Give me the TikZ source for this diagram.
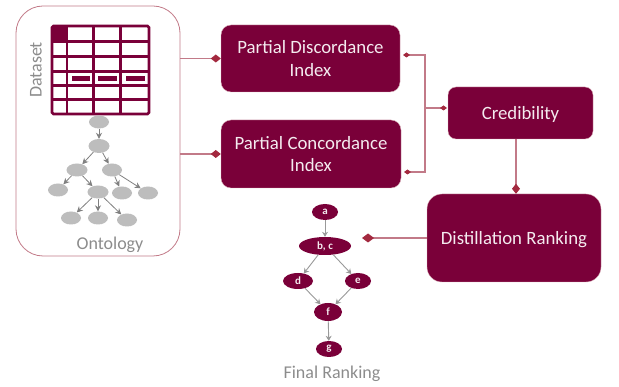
\documentclass[tikz,border=0pt]{standalone}
\usepackage{fontspec}
\setmainfont{Carlito}
\usetikzlibrary{arrows.meta,shapes.geometric}
\definecolor{wine}{HTML}{7A0039}
\definecolor{rose}{HTML}{C27A88}
\definecolor{tipred}{HTML}{A3293F}
\definecolor{onto}{HTML}{BDBDBD}
\definecolor{caption}{HTML}{8C8C8C}
\tikzset{
  box/.style={draw=rose!60,fill=wine,text=white!92!wine,rounded corners=10pt,inner sep=0pt,align=center,font=\fontsize{18.8}{22.5}\selectfont},
  link/.style={draw=rose,line width=1.1pt,-{Diamond[fill=tipred,color=tipred,length=10pt,width=8pt]}},
  smalllink/.style={draw=rose,line width=1.1pt,-{Diamond[fill=tipred,color=tipred,length=7pt,width=5pt]}},
  gridline/.style={draw=wine,line width=2.6pt},
  ontonode/.style={ellipse,fill=onto,minimum width=20pt,minimum height=13pt,inner sep=0pt},
  ontoarrow/.style={draw=gray,line width=.8pt,-{Stealth[length=6pt,width=6pt]}},
  rank/.style={ellipse,fill=wine,text=white!92!wine,minimum height=16pt,inner sep=0pt,font=\fontsize{11}{11}\selectfont\bfseries},
  rankarrow/.style={draw=gray!80,line width=.9pt,-{Stealth[length=5pt,width=6pt]}},
  caption/.style={text=caption,font=\fontsize{18}{18}\selectfont}
}
\begin{document}
\begin{tikzpicture}[x=1pt,y=-1pt]
  \useasboundingbox (0,0) rectangle (619,387);

  % dataset and ontology panel
  \node [draw=rose,fill=white,line width=.8pt,rounded corners=27pt,minimum width=164pt,minimum height=250pt,inner sep=0pt] (panel) at (98,131) {};
  \node [caption,rotate=90] (datasetlabel) at (36,70) {Dataset};
  \node [caption] (ontologylabel) at (110,245) {Ontology};

  % table
  \draw [gridline,fill=white,rounded corners=1.5pt] (52,26) rectangle (149,114);
  \fill [wine] (52,26) rectangle (67,41.5);
  \draw [gridline] (67,26) -- (67,114);
  \draw [gridline] (93.5,26) -- (93.5,114);
  \draw [gridline] (120.5,26) -- (120.5,114);
  \draw [gridline] (52,41.5) -- (149,41.5);
  \draw [gridline] (52,56.5) -- (149,56.5);
  \draw [gridline] (52,71.5) -- (149,71.5);
  \draw [gridline] (52,85.5) -- (149,85.5);
  \draw [gridline] (52,99.5) -- (149,99.5);
  \fill [wine] (71.5,76) rectangle (89.5,81);
  \fill [wine] (98,76) rectangle (116.5,81);
  \fill [wine] (125.5,76) rectangle (145,81);

  % ontology tree
  \node [ontonode] (o1) at (99,122) {};
  \node [ontonode,minimum width=21pt,minimum height=14pt] (o2) at (99,146) {};
  \node [ontonode,minimum width=21pt] (o3) at (77,170) {};
  \node [ontonode] (o4) at (112,170) {};
  \node [ontonode] (o5) at (58,190) {};
  \node [ontonode,minimum width=21pt] (o6) at (98,192) {};
  \node [ontonode] (o7) at (122,193) {};
  \node [ontonode] (o8) at (148,193) {};
  \node [ontonode] (o9) at (71,218) {};
  \node [ontonode] (o10) at (98,218) {};
  \node [ontonode] (o11) at (127,220) {};
  \draw [ontoarrow] (o1) -- (o2);
  \draw [ontoarrow] (o2) -- (o3);
  \draw [ontoarrow] (o2) -- (o4);
  \draw [ontoarrow] (o3) -- (o5);
  \draw [ontoarrow] (o3) -- (o6);
  \draw [ontoarrow] (o4) -- (o7);
  \draw [ontoarrow] (o4) -- (o8);
  \draw [ontoarrow] (o6) -- (o9);
  \draw [ontoarrow] (o6) -- (o10);
  \draw [ontoarrow] (o6) -- (o11);

  % main boxes
  \node [box,minimum width=179pt,minimum height=67pt] (discordance) at (310.5,58.5) {Partial Discordance\\Index};
  \node [box,minimum width=180pt,minimum height=68pt] (concordance) at (311,154) {Partial Concordance\\Index};
  \node [box,rounded corners=8pt,text depth=0pt,minimum width=145pt,minimum height=52pt] (credibility) at (520.5,113) {Credibility};
  \node [box,rounded corners=15pt,text depth=0pt,minimum width=174pt,minimum height=88pt] (distillation) at (514,238) {Distillation Ranking};

  % connectors
  \coordinate (junction) at (425,108);
  \coordinate (discport) at (403,55);
  \coordinate (concport) at (404,172);
  \coordinate (credport) at (447,108);
  \coordinate (rankport) at (362,238);
  \draw [link] (panel.east |- discordance.west) -- (discordance.west);
  \draw [link] (panel.east |- concordance.west) -- (concordance.west);
  \draw [smalllink] (junction) |- (discport);
  \draw [smalllink] (junction) |- (concport);
  \draw [smalllink] (junction) -- (credport);
  \draw [link] (credibility.south -| 516,0) -- (distillation.north -| 516,0);
  \draw [link,-{Diamond[fill=tipred,color=tipred,length=12pt,width=9pt]}] (distillation.west) -- (rankport);

  % final ranking
  \node [rank,minimum width=26pt] (a) at (325,212) {a};
  \node [rank,minimum width=52pt,minimum height=18pt] (bc) at (325,246) {b, c};
  \node [rank,minimum width=30pt] (d) at (298,281) {d};
  \node [rank,minimum width=26pt] (e) at (358,281) {e};
  \node [rank,minimum width=28pt,minimum height=18pt] (f) at (328,312) {f};
  \node [rank,minimum width=26pt] (g) at (329,349) {g};
  \draw [rankarrow] (a) -- (bc);
  \draw [rankarrow] (bc) -- (d);
  \draw [rankarrow] (bc) -- (e);
  \draw [rankarrow] (d) -- (f);
  \draw [rankarrow] (e) -- (f);
  \draw [rankarrow] (f) -- (g);
  \node [caption] (finallabel) at (332,374) {Final Ranking};
\end{tikzpicture}
\end{document}
